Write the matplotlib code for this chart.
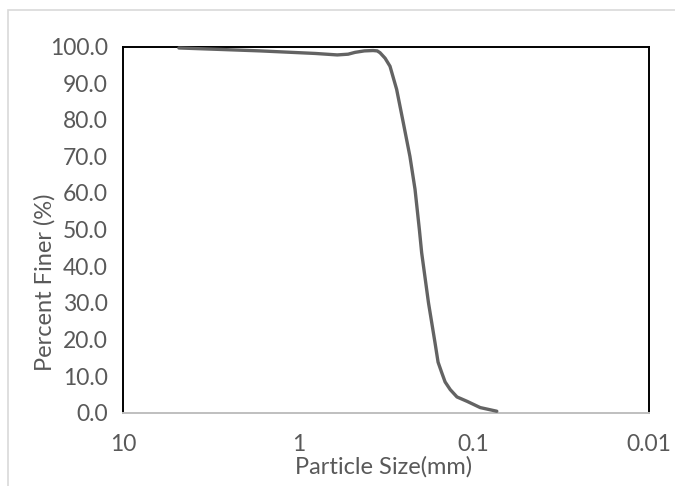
import matplotlib
matplotlib.use("Agg")
from matplotlib import pyplot as plt
from matplotlib.patches import Rectangle

# grain size distribution (sieve + hydrometer)
particle_size_mm = [4.80, 2.80, 1.65, 0.80, 0.60, 0.52, 0.475, 0.42, 0.375, 0.355,
                    0.342, 0.320, 0.300, 0.275, 0.252, 0.231, 0.216, 0.204, 0.198,
                    0.181, 0.166, 0.1596, 0.152, 0.1455, 0.136, 0.1245, 0.109,
                    0.0918, 0.0738]
percent_finer = [99.6, 99.2, 98.8, 98.1, 97.7, 97.9, 98.4, 98.8, 98.9, 98.8,
                 98.3, 96.8, 94.6, 88.3, 79.2, 70.0, 61.0, 50.0, 43.7,
                 30.0, 19.0, 13.8, 10.9, 8.4, 6.3, 4.3, 3.1,
                 1.4, 0.4]

x_ticks = [10, 1, 0.1, 0.01]
x_tick_labels = ["10", "1", "0.1", "0.01"]
y_ticks = [0, 10, 20, 30, 40, 50, 60, 70, 80, 90, 100]

plt.rcParams['font.family'] = ['Lato', 'DejaVu Sans']
text_grey = "#595959"

W, H = 675, 486
fig = plt.figure(figsize=(W / 100, H / 100), dpi=100)

# light chart-area border
fig.patches.append(Rectangle((8 / W, -0.1), 1.2, (H - 10) / H + 0.1,
                             transform=fig.transFigure, fill=False,
                             edgecolor="#d9d9d9", linewidth=1.2))

ax = fig.add_axes([123 / W, 1 - 412.7 / H, (649 - 123) / W, (412.7 - 46.5) / H])
ax.plot(particle_size_mm, percent_finer, color="#636363", linewidth=2.4,
        solid_capstyle="round", solid_joinstyle="round", zorder=5, clip_on=False)

ax.set_xscale("log")
ax.set_xlim(10, 0.01)
ax.set_ylim(0, 100)
ax.set_xticks(x_ticks)
ax.set_xticklabels(x_tick_labels)
ax.minorticks_off()
ax.set_yticks(y_ticks)
ax.set_yticklabels([f"{v:.1f}" for v in y_ticks])
ax.tick_params(axis="both", length=0, labelsize=16.5, labelcolor=text_grey)
ax.tick_params(axis="y", pad=11)
ax.tick_params(axis="x", pad=15)

for side in ["left", "top", "right"]:
    ax.spines[side].set_color("black")
    ax.spines[side].set_linewidth(1.4)
ax.spines["bottom"].set_color("#bfbfbf")
ax.spines["bottom"].set_linewidth(1.4)

fig.text(384 / W, 1 - 467 / H, "Particle Size(mm)", ha="center", va="center",
         fontsize=17, color=text_grey)
fig.text(45 / W, 1 - 282 / H, "Percent Finer (%)", ha="center", va="center",
         rotation=90, fontsize=17, color=text_grey)

fig.savefig("out.png", dpi=100)
